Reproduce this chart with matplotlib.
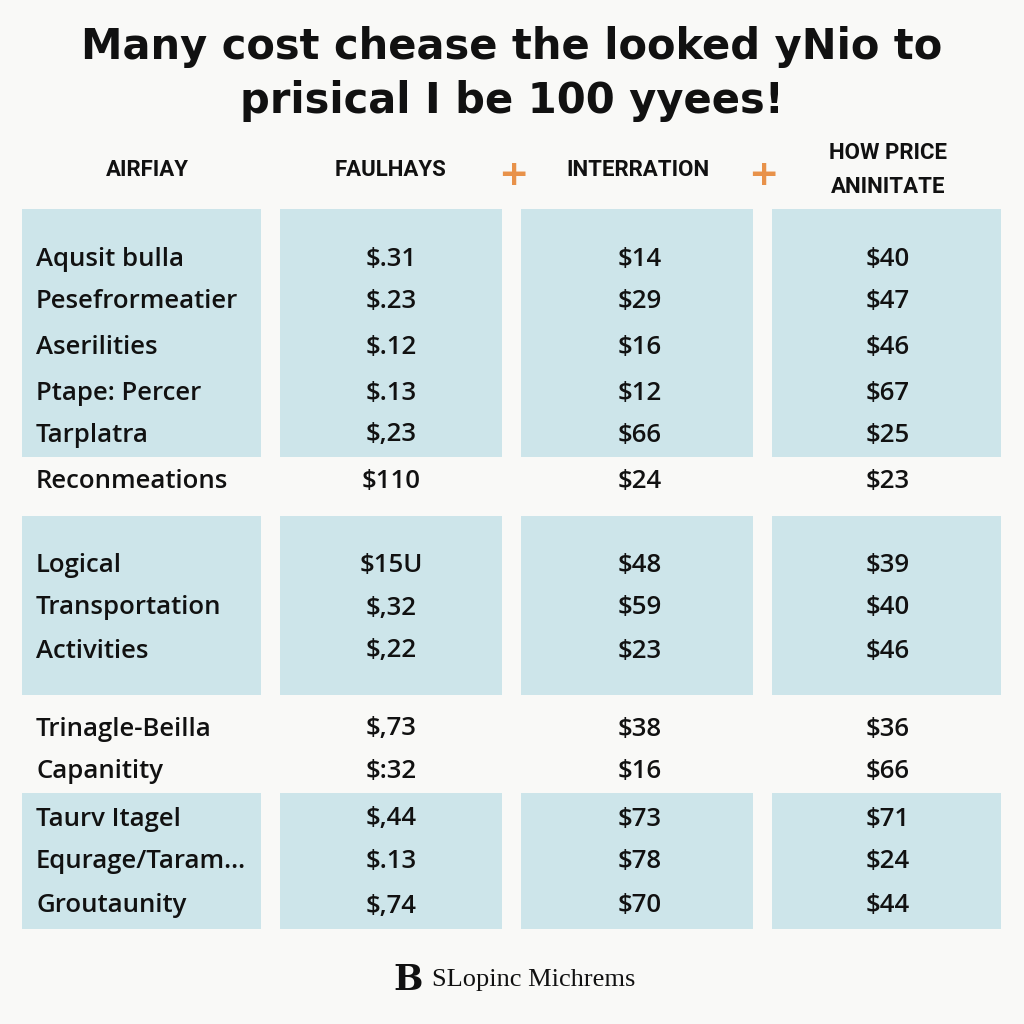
import matplotlib.pyplot as plt
from matplotlib.patches import Rectangle

# table content
title = ["Many cost chease the looked yNio to", "prisical I be 100 yyees!"]
headers = ["AIRFIAY", "FAULHAYS", "INTERRATION", "HOW PRICE\nANINITATE"]
row_labels = ["Aqusit bulla", "Pesefrormeatier", "Aserilities", "Ptape: Percer",
              "Tarplatra", "Reconmeations", "Logical", "Transportation",
              "Activities", "Trinagle-Beilla", "Capanitity", "Taurv Itagel",
              "Equrage/Taram...", "Groutaunity"]
faulhays = ["$.31", "$.23", "$.12", "$.13", "$,23", "$110", "$15U", "$,32",
            "$,22", "$,73", "$:32", "$,44", "$.13", "$,74"]
interration = ["$14", "$29", "$16", "$12", "$66", "$24", "$48", "$59",
               "$23", "$38", "$16", "$73", "$78", "$70"]
how_price = ["$40", "$47", "$46", "$67", "$25", "$23", "$39", "$40",
             "$46", "$36", "$66", "$71", "$24", "$44"]
footer = "SLopinc Michrems"

bg = "#f9f9f7"
box = "#cde5ea"
ink = "#111111"
orange = "#e8924a"

fig = plt.figure(figsize=(10.24, 10.24), dpi=100, facecolor=bg)
ax = fig.add_axes([0, 0, 1, 1])
ax.set_xlim(0, 1024)
ax.set_ylim(1024, 0)
ax.axis("off")

# layout
col_x = [(22, 261), (280, 502), (521, 753), (772, 1001)]
row_y = [260, 302, 347, 393, 435, 482, 565, 608, 651, 729, 772, 819, 862, 906]
bands = [(209, 457), (516, 695), (793, 929)]

for y0, y1 in bands:
    for x0, x1 in col_x:
        ax.add_patch(Rectangle((x0, y0), x1 - x0, y1 - y0, color=box, lw=0))

for i, line in enumerate(title):
    ax.text(512, 47 + i * 54, line, ha="center", va="center", fontsize=30,
            fontweight="bold", color=ink, family="DejaVu Sans")

head_x = [147, 390, 638, 888]
for hx, h in zip(head_x, headers):
    ax.text(hx, 170, h, ha="center", va="center", fontsize=16, color=ink,
            family="Roboto", fontweight="bold", fontstretch="condensed",
            linespacing=1.75)
for px in [513, 763]:
    ax.text(px, 175, "+", ha="center", va="center", fontsize=26,
            fontweight="bold", color=orange)

val_x = [391, 640, 888]
for i, y in enumerate(row_y):
    ax.text(36, y, row_labels[i], ha="left", va="center", fontsize=18.5, color=ink,
            family="Open Sans", fontweight="semibold")
    for vx, col in zip(val_x, [faulhays, interration, how_price]):
        ax.text(vx, y, col[i], ha="center", va="center", fontsize=18.5, color=ink,
                family="Open Sans", fontweight="semibold")

ax.text(408, 980, "B", ha="center", va="center", fontsize=25, fontweight="bold",
        color=ink, family="DejaVu Serif")
ax.text(432, 980, footer, ha="left", va="center", fontsize=19, color=ink,
        family="Liberation Serif")

fig.savefig("out.png", dpi=100, facecolor=bg)
